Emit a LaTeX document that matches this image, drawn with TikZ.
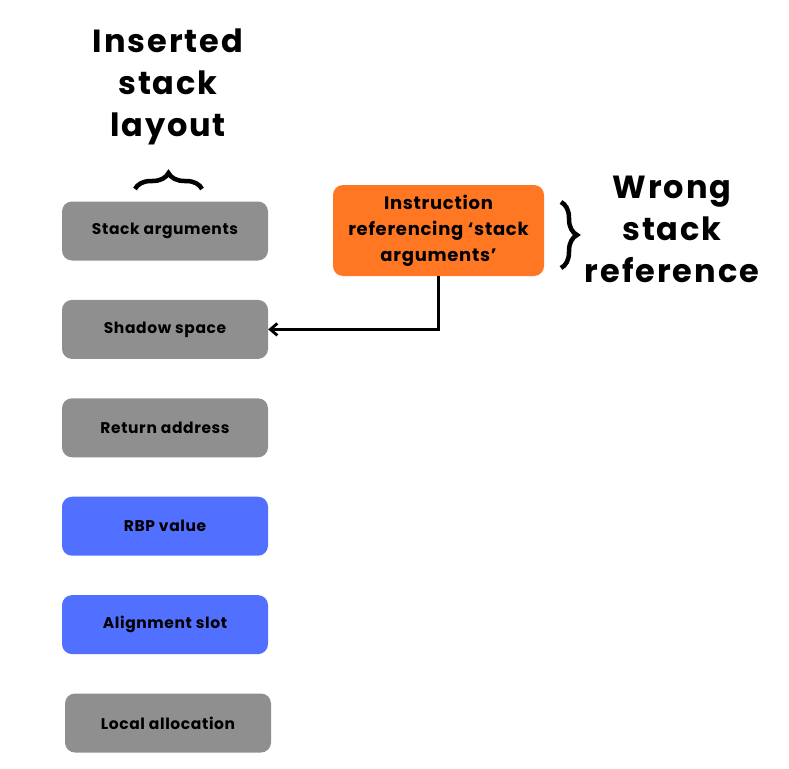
\documentclass[tikz,border=0pt]{standalone}
\usepackage{fontspec}
\setmainfont{Poppins}
\newfontfamily\slotfont[LetterSpace=4]{Poppins}
\newfontfamily\headfont[LetterSpace=6]{Poppins}
\usepackage{tikz}
\usetikzlibrary{
   arrows.meta,
   decorations.pathreplacing,
   positioning
}
\definecolor{slotgray}{HTML}{8F8F8F}
\definecolor{slotblue}{HTML}{5170FF}
\definecolor{instrorange}{HTML}{FF7722}

\begin{document}
\begin{tikzpicture}[
    x=1pt, y=-1pt,
    node distance=39pt,
    box/.style={rectangle, rounded corners=10pt, minimum width=206pt, minimum height=59pt, align=center, font=\slotfont\fontsize{15.5}{26}\selectfont\bfseries},
    title/.style={align=center, font=\headfont\fontsize{32}{42}\selectfont\bfseries},
    arrow/.style={-{Straight Barb[length=7pt,width=12pt]}, line width=2.8pt},
    brace/.style={decorate, decoration={brace, amplitude=16pt}, line width=4.5pt}
]
\useasboundingbox (0,0) rectangle (789,768);

\node[box, fill=slotgray] (SA) at (165,231) {Stack arguments};
\node[box, fill=slotgray, below=of SA] (SS) {Shadow space};
\node[box, fill=slotgray, below=of SS] (RA) {Return address};
\node[box, fill=slotblue, below=of RA] (RBP) {RBP value};
\node[box, fill=slotblue, below=of RBP] (AS) {Alignment slot};
\node[box, fill=slotgray, below=of AS, xshift=3pt] (LA) {Local allocation};

\node[box, fill=instrorange, minimum width=211pt, minimum height=91pt, font=\slotfont\fontsize{18}{26}\selectfont\bfseries] (IR) at (438.5,230.5) {Instruction\\referencing ‘stack\\arguments’};

\node[title] (IL) at (168,87) {Inserted\\stack\\layout};
\node[title] (WR) at (672,229) {Wrong\\stack\\reference};

\draw[brace] (135,189) -- (202,189);
\draw[brace] (561,202) -- (561,268);

\draw[arrow] (IR.south) |- (SS.east);

\end{tikzpicture}
\end{document}
